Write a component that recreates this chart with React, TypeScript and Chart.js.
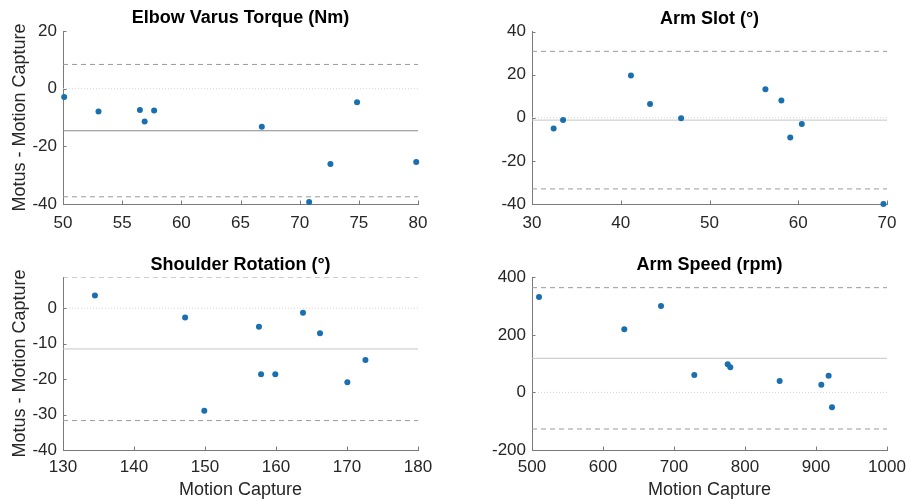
import React, { useEffect, useRef } from "react";
import { Chart, registerables } from "chart.js";

Chart.register(...registerables);

// ---------- Data ----------
const elbowX = [50.1, 53.0, 56.5, 56.9, 57.7, 66.8, 70.8, 72.6, 74.85, 79.85];
const elbowY = [-2.9, -7.9, -7.4, -11.4, -7.6, -13.2, -39.3, -26.1, -4.7, -25.4];
const elbowLimits = { upper: 8.4, mean: -14.6, lower: -37.5 };
const elbowXTicks = [50, 55, 60, 65, 70, 75, 80];
const elbowYTicks = [-40, -20, 0, 20];

const slotX = [32.44, 33.5, 41.15, 43.3, 46.8, 56.3, 58.1, 59.1, 60.4, 69.6];
const slotY = [-5.0, -1.0, 19.6, 6.4, -0.2, 13.2, 8.0, -9.2, -2.9, -40];
const slotLimits = { upper: 30.8, mean: -1.1, lower: -33.0 };
const slotXTicks = [30, 40, 50, 60, 70];
const slotYTicks = [-40, -20, 0, 20, 40];

const shoulderX = [134.5, 147.2, 149.9, 157.6, 157.9, 159.9, 163.8, 166.2, 170.05, 172.6];
const shoulderY = [3.6, -2.6, -28.9, -5.2, -18.6, -18.6, -1.3, -7.1, -20.9, -14.6];
const shoulderLimits = { upper: 8.8, mean: -11.5, lower: -31.7 };
const shoulderXTicks = [130, 140, 150, 160, 170, 180];
const shoulderYTicks = [-40, -30, -20, -10, 0];

const speedX = [509.9, 630, 681.7, 728.6, 775.6, 779.3, 848.8, 907.5, 917.8, 922.5];
const speedY = [331.7, 219.3, 300.4, 60.6, 97.7, 87.3, 39.8, 27, 58.3, -51.7];
const speedLimits = { upper: 364, mean: 118.5, lower: -127 };
const speedXTicks = [500, 600, 700, 800, 900, 1000];
const speedYTicks = [-200, 0, 200, 400];

const Y_LABEL = "Motus - Motion Capture";
const X_LABEL = "Motion Capture";

const FONT = "'Liberation Sans', Arial, Helvetica, sans-serif";
const TEXT = "#262626";
const AXIS = "#7a7a7a";
const POINT = "#1a6faf";

type PanelProps = {
  title: string;
  xs: number[];
  ys: number[];
  limits: { upper: number; mean: number; lower: number };
  xTicks: number[];
  yTicks: number[];
  xMin: number;
  xMax: number;
  yMin: number;
  yMax: number;
  meanColor: string;
  yLabel: boolean;
  xLabel: boolean;
  left: number;
  top: number;
  height: number;
  areaLeft: number;
  areaRight: number;
  areaTop: number;
  areaBottom: number;
  titleCenter: number;
  xTickPad: number;
};

const CANVAS_W = 480;

const inwardTicks = {
  id: "inwardTicks",
  afterDraw(chart: any) {
    const ctx = chart.ctx;
    const xs = chart.scales.x;
    const ys = chart.scales.y;
    const area = chart.chartArea;
    ctx.save();
    ctx.strokeStyle = AXIS;
    ctx.lineWidth = 1;
    ctx.beginPath();
    for (const t of xs.ticks) {
      const px = Math.round(xs.getPixelForValue(t.value)) + 0.5;
      ctx.moveTo(px, area.bottom);
      ctx.lineTo(px, area.bottom - 3.5);
    }
    for (const t of ys.ticks) {
      const py = Math.round(ys.getPixelForValue(t.value)) + 0.5;
      ctx.moveTo(area.left, py);
      ctx.lineTo(area.left + 3.5, py);
    }
    ctx.stroke();
    ctx.restore();
  },
};

function Panel(p: PanelProps) {
  const ref = useRef<HTMLCanvasElement | null>(null);
  useEffect(() => {
    if (!ref.current) return;
    const hline = (v: number) => [
      { x: p.xMin, y: v },
      { x: p.xMax, y: v },
    ];
    const titleH = 18 * 1.2;
    const titlePadTop = p.titleCenter - titleH / 2;
    const titlePadBottom = p.areaTop - titlePadTop - titleH;
    const chart = new Chart(ref.current, {
      type: "scatter",
      data: {
        datasets: [
          {
            data: p.xs.map((x, i) => ({ x, y: p.ys[i] })),
            backgroundColor: POINT,
            borderColor: POINT,
            pointRadius: 3,
            pointBorderWidth: 0,
            clip: false,
          } as any,
          {
            data: hline(p.limits.upper),
            showLine: true,
            pointRadius: 0,
            borderColor: "#9a9a9a",
            borderWidth: 1,
            borderDash: [5, 4],
          },
          {
            data: hline(p.limits.mean),
            showLine: true,
            pointRadius: 0,
            borderColor: p.meanColor,
            borderWidth: 1,
          },
          {
            data: hline(p.limits.lower),
            showLine: true,
            pointRadius: 0,
            borderColor: "#9a9a9a",
            borderWidth: 1,
            borderDash: [5, 4],
          },
          {
            data: hline(0),
            showLine: true,
            pointRadius: 0,
            borderColor: "#d4d4d4",
            borderWidth: 1,
            borderDash: [1, 2],
          },
        ],
      },
      options: {
        animation: false,
        responsive: false,
        events: [],
        layout: {
          padding: { left: 0, top: 0, right: CANVAS_W - p.areaRight, bottom: 0 },
        },
        plugins: {
          legend: { display: false },
          tooltip: { enabled: false },
          title: {
            display: true,
            text: p.title,
            fullSize: false,
            color: "#000",
            font: { family: FONT, size: 18, weight: "bold", lineHeight: 1.2 },
            padding: { top: titlePadTop, bottom: titlePadBottom },
          },
        },
        scales: {
          x: {
            type: "linear",
            min: p.xMin,
            max: p.xMax,
            afterBuildTicks: (s: any) => {
              s.ticks = p.xTicks.map((v) => ({ value: v }));
            },
            afterFit: (s: any) => {
              s.height = p.height - p.areaBottom;
            },
            grid: { display: false, drawTicks: false },
            border: { display: true, color: AXIS, width: 1 },
            ticks: {
              color: TEXT,
              font: { family: FONT, size: 17 },
              padding: p.xTickPad,
              maxRotation: 0,
              autoSkip: false,
              callback: (v: any) => String(v),
            },
            title: {
              display: p.xLabel,
              text: X_LABEL,
              color: TEXT,
              font: { family: FONT, size: 18, lineHeight: 1.2 },
              padding: { top: 0, bottom: 0 },
            },
          },
          y: {
            type: "linear",
            min: p.yMin,
            max: p.yMax,
            afterBuildTicks: (s: any) => {
              s.ticks = p.yTicks.map((v) => ({ value: v }));
            },
            afterFit: (s: any) => {
              s.width = p.areaLeft;
            },
            grid: { display: false, drawTicks: false },
            border: { display: true, color: AXIS, width: 1 },
            ticks: {
              color: TEXT,
              font: { family: FONT, size: 17 },
              padding: 6,
              autoSkip: false,
              callback: (v: any) => String(v),
            },
            title: {
              display: p.yLabel,
              text: Y_LABEL,
              color: TEXT,
              font: { family: FONT, size: 18, lineHeight: 1.2 },
              padding: { top: 9, bottom: 0 },
            },
          },
        },
      } as any,
      plugins: [inwardTicks],
    });
    return () => chart.destroy();
  }, []);
  return (
    <canvas
      ref={ref}
      width={CANVAS_W}
      height={p.height}
      style={{
        position: "absolute",
        left: p.left,
        top: p.top,
        width: CANVAS_W,
        height: p.height,
      }}
    />
  );
}

export default function App() {
  return (
    <div
      style={{
        position: "fixed",
        left: 0,
        top: 0,
        width: 906,
        height: 501,
        overflow: "hidden",
        background: "#fff",
      }}
    >
      <Panel
        title="Elbow Varus Torque (Nm)"
        xs={elbowX}
        ys={elbowY}
        limits={elbowLimits}
        xTicks={elbowXTicks}
        yTicks={elbowYTicks}
        xMin={50}
        xMax={80}
        yMin={-40}
        yMax={20}
        meanColor="#8a8a8a"
        yLabel={true}
        xLabel={false}
        left={0}
        top={0}
        height={240}
        areaLeft={63}
        areaRight={418}
        areaTop={31}
        areaBottom={204}
        titleCenter={18.5}
        xTickPad={9}
      />
      <Panel
        title="Arm Slot (°)"
        xs={slotX}
        ys={slotY}
        limits={slotLimits}
        xTicks={slotXTicks}
        yTicks={slotYTicks}
        xMin={30}
        xMax={70}
        yMin={-40}
        yMax={40}
        meanColor="#c4c4c4"
        yLabel={false}
        xLabel={false}
        left={453}
        top={0}
        height={240}
        areaLeft={79}
        areaRight={434}
        areaTop={31.5}
        areaBottom={204}
        titleCenter={19}
        xTickPad={9}
      />
      <Panel
        title="Shoulder Rotation (°)"
        xs={shoulderX}
        ys={shoulderY}
        limits={shoulderLimits}
        xTicks={shoulderXTicks}
        yTicks={shoulderYTicks}
        xMin={130}
        xMax={180}
        yMin={-40}
        yMax={8.8}
        meanColor="#c4c4c4"
        yLabel={true}
        xLabel={true}
        left={0}
        top={240}
        height={261}
        areaLeft={63}
        areaRight={418}
        areaTop={37}
        areaBottom={210}
        titleCenter={25.5}
        xTickPad={7}
      />
      <Panel
        title="Arm Speed (rpm)"
        xs={speedX}
        ys={speedY}
        limits={speedLimits}
        xTicks={speedXTicks}
        yTicks={speedYTicks}
        xMin={500}
        xMax={1000}
        yMin={-200}
        yMax={400}
        meanColor="#c4c4c4"
        yLabel={false}
        xLabel={true}
        left={453}
        top={240}
        height={261}
        areaLeft={79}
        areaRight={434}
        areaTop={37.3}
        areaBottom={210}
        titleCenter={25}
        xTickPad={7}
      />
    </div>
  );
}
